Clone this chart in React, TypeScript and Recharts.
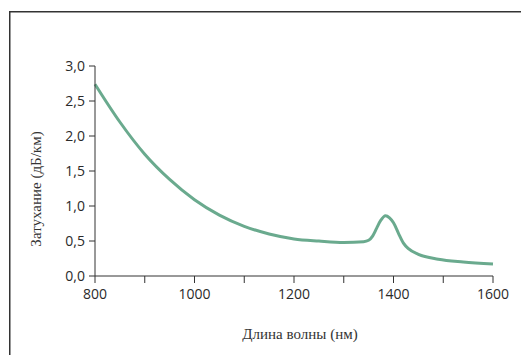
import React from "react";
import { LineChart, Line, XAxis, YAxis, Label } from "recharts";

const wavelengths = [800, 850, 900, 950, 1000, 1050, 1100, 1150, 1200, 1250, 1300, 1340, 1350, 1358, 1366, 1374, 1384, 1392, 1400, 1410, 1420, 1430, 1450, 1490, 1540, 1600];
const attenuation = [2.74, 2.2, 1.74, 1.38, 1.09, 0.87, 0.71, 0.6, 0.53, 0.5, 0.48, 0.49, 0.51, 0.57, 0.68, 0.79, 0.86, 0.83, 0.76, 0.61, 0.47, 0.39, 0.31, 0.24, 0.2, 0.17];
const xTicks = [800, 900, 1000, 1100, 1200, 1300, 1400, 1500, 1600];
const yTicks = [0, 0.5, 1, 1.5, 2, 2.5, 3];

const data = wavelengths.map((w, i) => ({ w, a: attenuation[i] }));

const tickStyle = { fontFamily: "'Open Sans', sans-serif", fontSize: 14, fill: "#2a2a2a" };
const labelFont = "'Liberation Serif', serif";

export default function App() {
  return (
    <div style={{ position: "absolute", left: 0, top: 0, width: 521, height: 355, overflow: "hidden", background: "#fff" }}>
      <LineChart width={521} height={355} data={data} margin={{ top: 66, right: 28, bottom: 0, left: 0 }}>
        <XAxis
          dataKey="w"
          type="number"
          domain={[800, 1600]}
          ticks={xTicks}
          interval={0}
          tickFormatter={(v: number) => (v % 200 === 0 ? String(v) : "")}
          height={79}
          tickSize={7}
          tickMargin={6}
          stroke="#333"
          tick={tickStyle}
        >
          <Label
            content={() => (
              <g>
                <path d="M9.75,360 L9.75,11.75 L530,11.75" fill="none" stroke="#333" strokeWidth={1.5} />
                <text x={300} y={339} textAnchor="middle" fontFamily={labelFont} fontSize={15} fill="#333">
                  Длина волны (нм)
                </text>
              </g>
            )}
          />
        </XAxis>
        <YAxis
          type="number"
          domain={[0, 3]}
          ticks={yTicks}
          interval={0}
          tickFormatter={(v: number) => v.toFixed(1).replace(".", ",")}
          width={95}
          tickSize={6}
          tickMargin={4}
          stroke="#333"
          tick={tickStyle}
        >
          <Label
            content={() => (
              <text x={41} y={189} textAnchor="middle" transform="rotate(-90 41 189)" fontFamily={labelFont} fontSize={15} fill="#333">
                Затухание (дБ/км)
              </text>
            )}
          />
        </YAxis>
        <Line type="monotone" dataKey="a" stroke="#6aaa8e" strokeWidth={3} dot={false} isAnimationActive={false} />
      </LineChart>
    </div>
  );
}
